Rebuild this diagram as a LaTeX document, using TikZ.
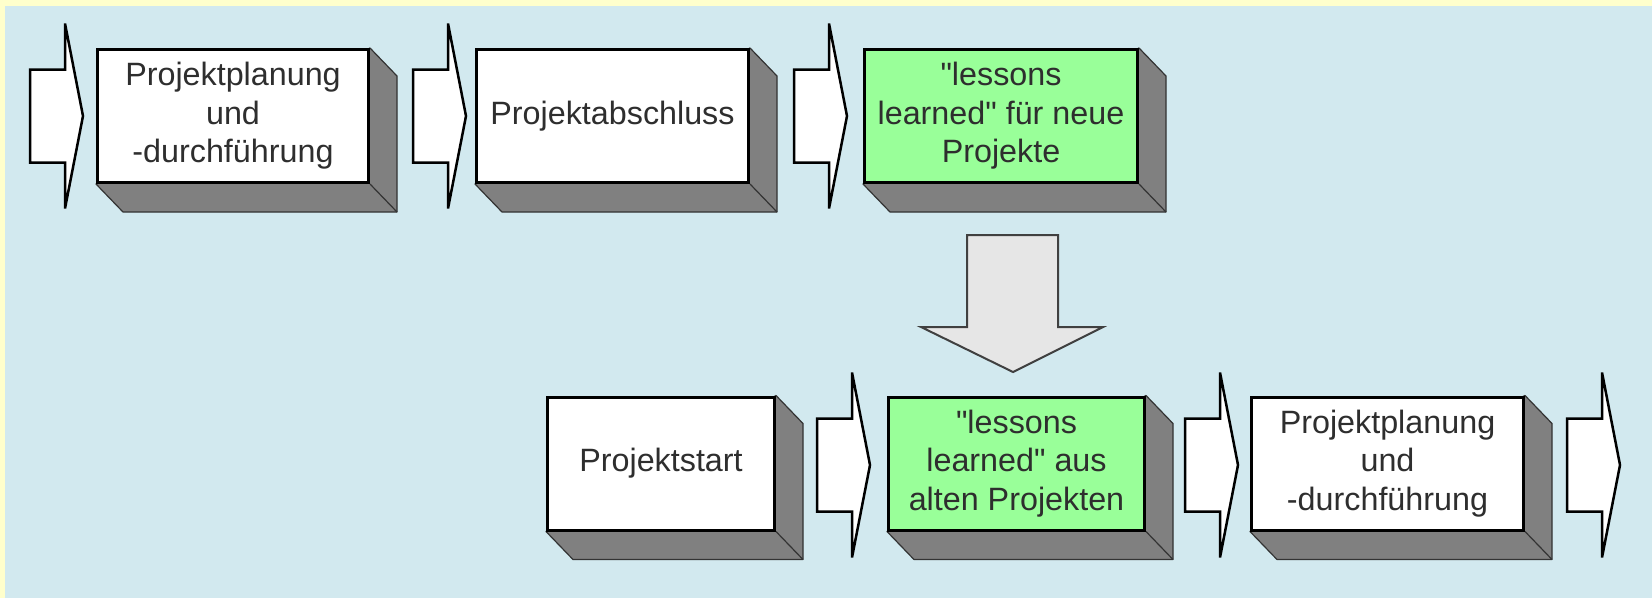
\documentclass[tikz,border=0pt]{standalone}
\usepackage{fontspec}
\setmainfont{Liberation Sans}
\usepackage{xcolor}
\usepackage{tikz}
\usetikzlibrary{backgrounds}
\definecolor{paneblue}{HTML}{D2E9EF}
\definecolor{paneyellow}{HTML}{FFFFCC}
\definecolor{lgreen}{HTML}{99FF99}
\definecolor{sidegray}{HTML}{808080}
\definecolor{dropgray}{HTML}{E6E6E6}
% side and bottom faces behind a box
\newcommand{\boxdepth}[1]{%
  \begin{scope}[on background layer]
    \filldraw[depth] (#1.north east) -- ([shift={(27,28)}]#1.north east)
      -- ([shift={(27,28)}]#1.south east) -- ([shift={(27,28)}]#1.south west)
      -- (#1.south west) -- cycle;
    \draw[depth] (#1.south east) -- ([shift={(27,28)}]#1.south east);
  \end{scope}}
% block arrow, tail centre at #1
\newcommand{\flowarrow}[1]{%
  \draw[flow] (#1) ++(0,-46.5) -- ++(35,0) -- ++(0,-46) -- ++(18,92.5)
    -- ++(-18,92.5) -- ++(0,-46) -- ++(-35,0) -- cycle;}
\newcommand{\q}{\textquotedbl}

\begin{document}
\begin{tikzpicture}[x=1pt, y=-1pt,
  box/.style={draw, line width=3pt, fill=white, align=center, inner sep=0pt,
              font=\fontsize{32.3}{38.5}\selectfont, text=black!82,
              minimum height=133pt, minimum width=#1},
  box/.default=272pt,
  lesson/.style={box=#1, fill=lgreen},
  lesson/.default=272pt,
  depth/.style={fill=sidegray, draw=black!80, line width=1.2pt, line join=round},
  flow/.style={draw, fill=white, line width=2.5pt},
  drop/.style={draw=black!75, fill=dropgray, line width=2pt}]
  \useasboundingbox (0,0) rectangle (1652,598);
  \begin{scope}[on background layer]
    \fill[paneyellow] (0,0) rectangle (1652,598);
    \fill[paneblue] (5,6) rectangle (1652,598);
  \end{scope}
  % row 1: the old project
  \node[box=271pt]    (plan)   at (233,116)    {Projektplanung\\und\\-durchführung};
  \node[box]          (close)  at (612.5,116)  {Projektabschluss};
  \node[lesson=273pt] (lessA)  at (1001,116)   {\q lessons\\learned\q{} für neue\\Projekte};
  % row 2: the new project
  \node[box=227pt]    (start)  at (661,463.5)  {Projektstart};
  \node[lesson=256pt] (lessB)  at (1016.5,463.5) {\q lessons\\learned\q{} aus\\alten Projekten};
  \node[box]          (plan2)  at (1387.5,463.5) {Projektplanung\\und\\-durchführung};
  \foreach \b in {plan,close,lessA,start,lessB,plan2} {\boxdepth{\b}}
  % block arrows
  \coordinate (in1) at (30,116);
  \coordinate (in2) at (413,116);
  \coordinate (in3) at (794,116);
  \coordinate (in4) at (817,465);
  \coordinate (in5) at (1185,465);
  \coordinate (in6) at (1567,465);
  \foreach \a in {in1,in2,in3,in4,in5,in6} {\flowarrow{\a}}
  % handing the lessons on
  \coordinate (hand) at (967,235);
  \draw[drop] (hand) -- ++(91,0) -- ++(0,92) -- ++(45,0) -- ++(-90,45)
    -- ++(-92,-45) -- ++(46,0) -- cycle;
\end{tikzpicture}
\end{document}
